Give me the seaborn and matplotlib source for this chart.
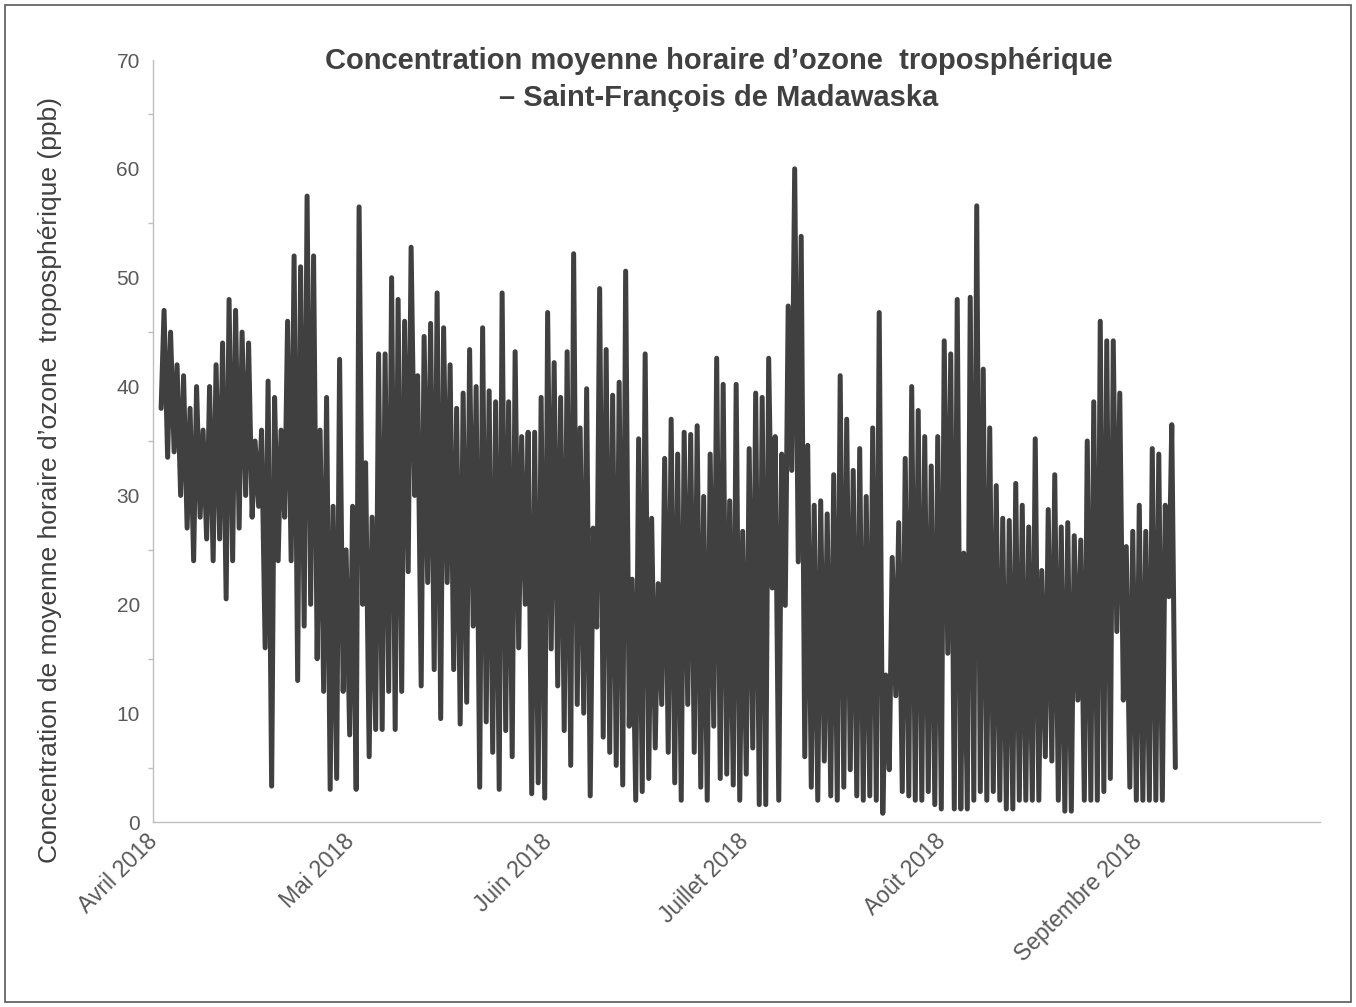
import numpy as np
import pandas as pd
import matplotlib
matplotlib.use("Agg")
import matplotlib.pyplot as plt
import matplotlib.transforms as mtransforms
import seaborn as sns
from matplotlib.ticker import MultipleLocator
from matplotlib.patches import Rectangle

# Daily minimum (night) and maximum (afternoon) hourly ozone, ppb
# one entry per day, starting 2 April 2018
daily_low = [
    38, 33.5, 34, 30, 27, 24, 28, 26, 24, 26, 20.5, 24, 27, 30, 28, 29, 16, 3.3, 24, 28,
    24, 13, 18, 20, 15, 12, 3, 4, 12, 8, 3, 20, 6, 8.5, 8.5, 12, 8.5, 12, 23, 30,
    12.5, 22, 14, 9.5, 22, 14, 9, 11, 18, 3.2, 9.2, 6.4, 3, 8.4, 6, 16, 20, 2.6, 3.6, 2.2,
    15.9, 12.5, 8.4, 5.2, 10.8, 10, 2.4, 17.9, 7.8, 6.4, 5.2, 3.4, 8.8, 2, 2.8, 4, 6.8, 10.8, 6.4, 3.6,
    2, 10.8, 6.4, 3.2, 2, 8.8, 4, 4.4, 3.4, 2, 4.4, 6.8, 1.6, 1.6, 21.5, 2, 19.9, 32.3, 23.9, 6,
    3.2, 2, 5.6, 2.4, 2, 3.2, 4.8, 2.4, 2, 2.4, 2, 0.8, 4.8, 11.6, 2.8, 2.4, 2, 2, 2.8, 1.6,
    1.2, 15.5, 1.2, 1.2, 1.2, 2, 2.8, 2, 2.8, 2, 1.2, 1.2, 2, 2, 2, 2, 6, 5.6, 2, 1,
    1, 11.2, 2, 2, 2, 2.8, 4, 17.5, 11.2, 3.2, 2, 2, 2, 2, 2, 20.7,
]
daily_high = [
    47, 45, 42, 41, 38, 40, 36, 40, 42, 44, 48, 47, 45, 44, 35, 36, 40.5, 39, 36, 46,
    52, 51, 57.5, 52, 36, 39, 29, 42.5, 25, 29, 56.5, 33, 28, 43, 43, 50, 48, 46, 52.8, 41,
    44.6, 45.8, 48.6, 45.4, 42, 38, 39.4, 43.4, 40, 45.4, 39.6, 38.6, 48.6, 38.6, 43.2, 35.4, 35.8, 35.8, 39, 46.8,
    42.2, 39, 43.2, 52.2, 36.2, 39.8, 27, 49, 43.4, 39.2, 40.4, 50.6, 22.3, 35.2, 43, 27.9, 21.9, 33.4, 37, 33.8,
    35.8, 35.6, 36.4, 29.9, 33.8, 42.6, 40.2, 29.5, 40.2, 26.7, 34.3, 39.4, 39, 42.6, 35.4, 33.8, 47.4, 60, 53.8, 34.6,
    29.1, 29.5, 28.3, 31.9, 41, 37, 32.3, 34.3, 29.9, 36.2, 46.8, 13.5, 24.3, 27.5, 33.4, 40, 37.8, 35.4, 32.7, 35.4,
    44.2, 43, 48, 24.7, 48.2, 56.6, 41.6, 36.2, 30.9, 27.9, 27.7, 31.1, 29.1, 27.1, 35.2, 23.1, 28.7, 31.9, 27.1, 27.5,
    26.3, 25.9, 35, 38.6, 46, 44.2, 44.2, 39.4, 25.3, 26.7, 29.1, 26.7, 34.3, 33.8, 29.1, 36.5,
]
last_value = 5.0

month_labels = ["Avril 2018", "Mai 2018", "Juin 2018", "Juillet 2018", "Août 2018", "Septembre 2018"]
title_lines = ["Concentration moyenne horaire d\u2019ozone  troposphérique",
               "\u2013 Saint-François de Madawaska"]
y_label = "Concentration de moyenne horaire d\u2019ozone  troposphérique (ppb)"

# build the series (night low then afternoon high for each day)
start = pd.Timestamp("2018-04-01")
times, vals = [], []
for k, (lo, hi) in enumerate(zip(daily_low, daily_high), start=1):
    times.append(start + pd.Timedelta(days=k + 0.25)); vals.append(lo)
    times.append(start + pd.Timedelta(days=k + 0.70)); vals.append(hi)
times.append(start + pd.Timedelta(days=len(daily_low) + 1.25)); vals.append(last_value)
df = pd.DataFrame({"date": times, "ozone": vals})

sns.set_theme(style="white")
plt.rcParams["font.family"] = ["Liberation Sans", "DejaVu Sans"]

W, H = 1356, 1007
fig = plt.figure(figsize=(W / 100, H / 100), dpi=100)
fig.patch.set_facecolor("white")
ax = fig.add_axes([153 / W, 1 - 822 / H, (1320 - 153) / W, (822 - 60) / H])

sns.lineplot(data=df, x="date", y="ozone", ax=ax, color="#404040",
             linewidth=3.6, estimator=None, sort=False)

ax.set_ylim(0, 70)
ax.yaxis.set_major_locator(MultipleLocator(10))
ax.yaxis.set_minor_locator(MultipleLocator(5))
ax.set_xlim(start, start + pd.Timedelta(days=179.5))
tick_pos = [start + pd.Timedelta(days=30.3 * i) for i in range(len(month_labels))]
ax.set_xticks(tick_pos)
ax.set_xticklabels(month_labels, rotation=45, ha="right", rotation_mode="anchor")

for s in ["top", "right"]:
    ax.spines[s].set_visible(False)
for s in ["left", "bottom"]:
    ax.spines[s].set_color("#BFBFBF")
    ax.spines[s].set_linewidth(1.0)
ax.tick_params(axis="both", which="major", length=5, width=1, color="#BFBFBF",
               labelcolor="#595959", direction="out")
ax.tick_params(axis="y", which="major", labelsize=15, pad=4.5)
ax.tick_params(axis="x", which="major", labelsize=16.5, pad=2)
ax.tick_params(axis="y", which="minor", length=3.5, width=1, color="#BFBFBF", direction="out", left=True)
ax.set_xlabel("")
ax.set_ylabel("")
ax.grid(False)

# nudge the rotated month labels so their ends sit at the ticks
shift = mtransforms.ScaledTranslation(-7 / 100, 2 / 100, fig.dpi_scale_trans)
for lab in ax.get_xticklabels():
    lab.set_transform(lab.get_transform() + shift)

fig.text(50 / W, 1 - 480 / H, y_label, rotation=90, ha="center", va="center",
         fontsize=19, color="#404040")
fig.text(719 / W, 1 - 61 / H, title_lines[0], ha="center", va="center",
         fontsize=21, fontweight="bold", color="#404040")
fig.text(719 / W, 1 - 98 / H, title_lines[1], ha="center", va="center",
         fontsize=21, fontweight="bold", color="#404040")

fig.add_artist(Rectangle((5 / W, 5 / H), (W - 10) / W, (H - 10) / H, transform=fig.transFigure,
                         fill=False, edgecolor="#595959", linewidth=1.2))

fig.savefig("out.png", dpi=100)
